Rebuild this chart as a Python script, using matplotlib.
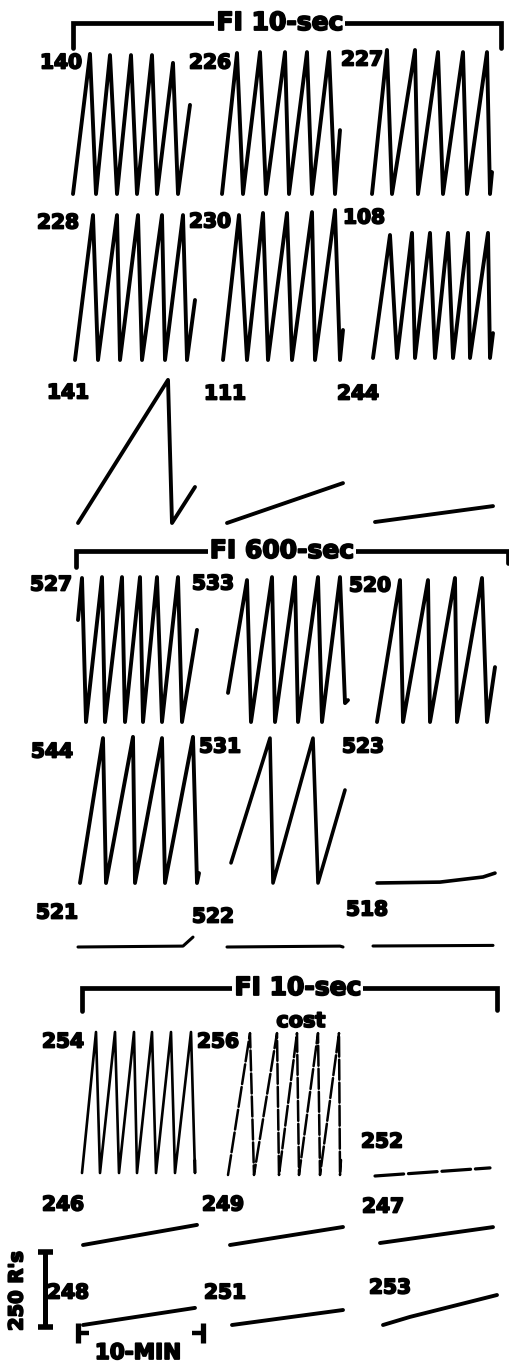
import matplotlib.pyplot as plt
import matplotlib.patheffects as pe

W, H = 510, 1372
DPI = 100
PX_PER_MIN = 12.5     # 10 min = 125 px on the chart
PX_PER_RESP = 0.3     # 250 responses = 75 px

# cumulative records: (time in min, cumulative responses since last reset)
rec_140 = ([0, 1.36, 1.84, 2.96, 3.52, 4.64, 5.12, 6.32, 6.72, 8.0, 8.4, 9.36],
           [0, 467, 0, 463, 0, 463, 0, 463, 0, 437, 0, 297])
rec_226 = ([0, 1.2, 1.68, 3.04, 3.52, 5.04, 5.36, 6.8, 7.2, 8.56, 9.04, 9.44],
           [0, 470, 0, 473, 0, 473, 0, 473, 0, 473, 0, 213])
rec_227 = ([0, 1.2, 1.6, 3.44, 3.68, 5.28, 5.68, 7.28, 7.6, 9.2, 9.44, 9.6],
           [0, 480, 0, 480, 0, 473, 0, 473, 0, 473, 0, 73])
rec_228 = ([0, 1.44, 1.84, 3.36, 3.6, 5.04, 5.36, 6.96, 7.2, 8.64, 8.96, 9.6],
           [0, 483, 0, 483, 0, 483, 0, 483, 0, 483, 0, 200])
rec_230 = ([0, 1.28, 1.92, 3.2, 3.6, 5.12, 5.52, 7.12, 7.36, 8.96, 9.36, 9.6],
           [0, 483, 0, 490, 0, 490, 0, 493, 0, 500, 0, 100])
rec_108 = ([0, 1.36, 1.92, 3.12, 3.36, 4.56, 4.96, 6.0, 6.4, 7.6, 7.76, 9.2, 9.36, 9.6],
           [0, 410, 0, 417, 0, 417, 0, 417, 0, 417, 0, 417, 0, 83])
rec_141 = ([0, 7.2, 7.52, 9.36], [0, 477, 0, 120])
rec_111 = ([0, 9.28], [0, 133])
rec_244 = ([0, 9.44], [0, 53])

rec_527 = ([0, 0.32, 0.64, 1.92, 2.16, 3.52, 3.76, 4.96, 5.2, 6.32, 6.72, 8.0, 8.32, 9.52],
           [340, 480, 0, 483, 0, 483, 0, 483, 0, 483, 0, 483, 0, 307])
rec_533 = ([0, 1.52, 1.84, 3.52, 3.76, 5.36, 5.6, 7.2, 7.52, 8.96, 9.36, 9.6],
           [97, 473, 0, 483, 0, 483, 0, 483, 0, 483, 63, 73])
rec_520 = ([0, 1.84, 2.08, 4.08, 4.24, 6.24, 6.4, 8.4, 8.8, 9.44],
           [0, 473, 0, 473, 0, 480, 0, 480, 0, 183])
rec_544 = ([0, 1.84, 2.08, 4.24, 4.4, 6.56, 6.8, 9.04, 9.36, 9.52],
           [0, 483, 0, 487, 0, 483, 0, 487, 0, 33])
rec_531 = ([0, 3.12, 3.36, 6.56, 6.96, 9.12], [67, 483, 0, 483, 0, 310])
rec_523 = ([0, 5.04, 8.48, 9.44], [0, 3, 20, 33])
rec_521 = ([0, 8.4, 9.2], [0, 3, 33])
rec_522 = ([0, 9.04, 9.28], [0, 3, 0])
rec_518 = ([0, 9.6], [0, 2])

rec_254 = ([0, 1.12, 1.44, 2.64, 2.96, 4.16, 4.4, 5.6, 5.92, 7.12, 7.44, 8.72, 9.04, 9.04],
           [0, 470, 0, 470, 0, 470, 0, 470, 0, 470, 0, 470, 0, 43])
rec_256 = ([0, 1.76, 2.08, 3.92, 4.08, 5.52, 5.68, 7.2, 7.36, 8.88, 8.96, 9.04],
           [0, 473, 0, 473, 0, 473, 0, 473, 0, 473, 0, 50])
rec_252 = ([0, 9.2], [0, 27])
rec_246 = ([0, 9.12], [0, 67])
rec_249 = ([0, 9.04], [0, 60])
rec_247 = ([0, 9.04], [0, 53])
rec_248 = ([0, 8.96], [0, 57])
rec_251 = ([0, 8.88], [0, 50])
rec_253 = ([0, 2.16, 9.12], [0, 27, 100])

scale_resp = 250
scale_min = 10

# name, record, origin x, baseline y, label x, label y, line width, dashes
layout = [
    ('140', rec_140, 73, 194, 40, 63, 2.8, None),
    ('226', rec_226, 222, 194, 189, 63, 2.8, None),
    ('227', rec_227, 372, 194, 341, 60, 2.8, None),
    ('228', rec_228, 75, 360, 37, 223, 2.8, None),
    ('230', rec_230, 223, 360, 189, 222, 2.8, None),
    ('108', rec_108, 373, 358, 343, 218, 2.8, None),
    ('141', rec_141, 78, 523, 47, 393, 2.8, None),
    ('111', rec_111, 227, 523, 204, 394, 2.8, None),
    ('244', rec_244, 375, 522, 337, 394, 2.8, None),
    ('527', rec_527, 78, 722, 30, 585, 2.8, None),
    ('533', rec_533, 228, 722, 192, 584, 2.8, None),
    ('520', rec_520, 377, 722, 349, 586, 2.8, None),
    ('544', rec_544, 80, 883, 31, 752, 2.8, None),
    ('531', rec_531, 231, 883, 199, 747, 2.6, None),
    ('523', rec_523, 377, 883, 342, 747, 2.6, None),
    ('521', rec_521, 78, 947, 36, 913, 2.2, None),
    ('522', rec_522, 227, 947, 192, 917, 2.2, None),
    ('518', rec_518, 373, 946, 346, 910, 2.2, None),
    ('254', rec_254, 82, 1173, 42, 1042, 1.9, None),
    ('256', rec_256, 228, 1175, 197, 1042, 1.8, (8, 1.2)),
    ('252', rec_252, 375, 1176, 361, 1142, 2.3, (9, 1.5)),
    ('246', rec_246, 83, 1245, 42, 1205, 2.8, None),
    ('249', rec_249, 230, 1245, 202, 1205, 2.8, None),
    ('247', rec_247, 380, 1243, 362, 1207, 2.8, None),
    ('248', rec_248, 83, 1325, 47, 1293, 2.8, None),
    ('251', rec_251, 232, 1325, 204, 1293, 2.8, None),
    ('253', rec_253, 383, 1325, 369, 1288, 2.8, None),
]

FONT = 'DejaVu Sans'
HEAVY = [pe.withStroke(linewidth=1.3, foreground='black')]

fig = plt.figure(figsize=(W / DPI, H / DPI), dpi=DPI)
fig.patch.set_facecolor('white')

# overlay in pixel units for brackets and labels
over = fig.add_axes([0, 0, 1, 1])
over.set_xlim(0, W)
over.set_ylim(H, 0)
over.axis('off')


def panel(x0, yb, w=140, h=175):
    """Axes whose origin sits at pixel (x0, yb) with the recorder's scale."""
    ax = fig.add_axes([x0 / W, (H - yb) / H, w / W, h / H])
    ax.set_xlim(0, w / PX_PER_MIN)
    ax.set_ylim(0, h / PX_PER_RESP)
    ax.axis('off')
    ax.patch.set_alpha(0)
    return ax


def heavy_text(x, y, s, size, **kw):
    return over.text(x, y, s, family=FONT, weight='bold', fontsize=size,
                     path_effects=HEAVY, **kw)


for name, (t, r), x0, yb, lx, ly, lw, dash in layout:
    ax = panel(x0, yb)
    line, = ax.plot(t, r, color='black', lw=lw, solid_capstyle='round',
                    solid_joinstyle='round', clip_on=False)
    if dash:
        line.set_dashes(dash)
        line.set_dash_capstyle('round')
    heavy_text(lx, ly, name, 14.5, ha='left', va='center')


def bracket(x1, x2, ytop, yl, yr, title, cx):
    over.plot([x1, x1, x2, x2], [yl, ytop, ytop, yr], color='black', lw=3.4,
              solid_joinstyle='miter', solid_capstyle='round')
    heavy_text(cx, ytop, title, 18, ha='center', va='center',
               bbox=dict(facecolor='white', edgecolor='none', pad=1.5))


bracket(73, 501, 23, 48, 48, 'FI 10-sec', 280)
bracket(76, 508, 551, 567, 563, 'FI 600-sec', 282)
bracket(82, 497, 988, 1011, 1010, 'FI 10-sec', 298)
heavy_text(301, 1021, 'cost', 15, ha='center', va='center')

# calibration bars: 250 responses and 10 min
sax = panel(45, 1327)
sax.plot([0, 0], [0, scale_resp], color='black', lw=3.6,
         solid_capstyle='butt', clip_on=False)
for yv in (0, scale_resp):
    sax.plot([-0.6, 0.6], [yv, yv], color='black', lw=4,
             solid_capstyle='butt', clip_on=False)
heavy_text(17, 1291, "250 R's", 14, rotation=90, ha='center', va='center')

tax = panel(78, 1353, h=40)
tax.set_ylim(-20 / PX_PER_RESP, 20 / PX_PER_RESP)
for xv in (0, scale_min):
    tax.plot([xv, xv], [-32, 32], color='black', lw=3.8,
             solid_capstyle='butt', clip_on=False)
tax.plot([0, 0.9], [0, 0], color='black', lw=3.2, solid_capstyle='butt',
         clip_on=False)
tax.plot([scale_min - 0.9, scale_min], [0, 0], color='black', lw=3.2,
         solid_capstyle='butt', clip_on=False)
heavy_text(138, 1353, '10-MIN', 15.5, ha='center', va='center')

fig.savefig('out.png', dpi=DPI, facecolor='white')
